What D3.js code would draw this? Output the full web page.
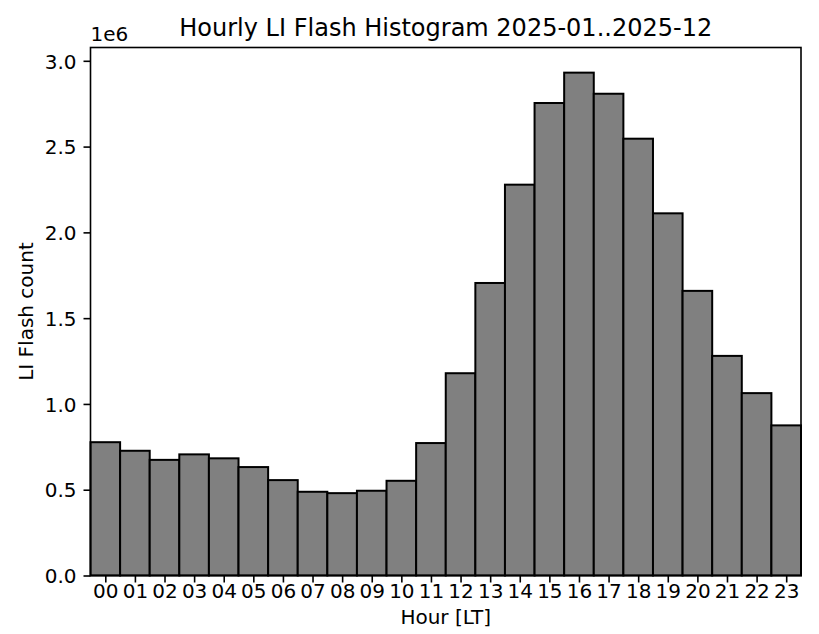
<!DOCTYPE html>
<html>
<head>
<meta charset="utf-8">
<script src="https://cdn.jsdelivr.net/npm/d3@7"></script>
<style>
  body { margin: 0; background: #fff; }
  text { font-family: "DejaVu Sans", sans-serif; fill: #000; }
</style>
</head>
<body>
<div id="chart"></div>
<script>
// hourly counts (millions)
var hours = ["00","01","02","03","04","05","06","07","08","09","10","11",
             "12","13","14","15","16","17","18","19","20","21","22","23"];
var flashCount = [0.777, 0.727, 0.674, 0.706, 0.683, 0.632, 0.556, 0.488, 0.480, 0.494, 0.552, 0.772,
                  1.179, 1.705, 2.278, 2.754, 2.931, 2.808, 2.546, 2.111, 1.659, 1.280, 1.063, 0.875];
var yTicks = [0, 0.5, 1.0, 1.5, 2.0, 2.5, 3.0];

const width = 819, height = 634;
const m = { left: 90.5, right: 801, top: 47.5, bottom: 575.5 };
const fs = '20px';

var svg = d3.select('#chart').append('svg')
  .attr('width', width)
  .attr('height', height);

var x = d3.scaleLinear().domain([0, hours.length]).range([m.left, m.right]);
var y = d3.scaleLinear().domain([0, d3.max(flashCount) * 1.05]).range([m.bottom, m.top]);

// bars
svg.append('g').selectAll('rect').data(flashCount).enter().append('rect')
  .attr('x', function(d, i){ return x(i); })
  .attr('y', function(d){ return y(d); })
  .attr('width', x(1) - x(0))
  .attr('height', function(d){ return y(0) - y(d); })
  .attr('fill', '#808080')
  .attr('stroke', '#000')
  .attr('stroke-width', 2);

// frame
svg.append('rect')
  .attr('x', m.left).attr('y', m.top)
  .attr('width', m.right - m.left).attr('height', m.bottom - m.top)
  .attr('fill', 'none').attr('stroke', '#000').attr('stroke-width', 1.6);

// y axis
var yAxis = d3.axisLeft(y).tickValues(yTicks).tickSize(7).tickPadding(7)
  .tickFormat(d3.format('.1f'));
var gy = svg.append('g').attr('transform', 'translate(' + m.left + ',0)').call(yAxis);
gy.select('.domain').remove();
gy.selectAll('.tick line').attr('stroke-width', 1.6);
gy.selectAll('.tick text').style('font-size', fs).attr('dy', '0.36em');

// x axis, label centred on each bar
var xAxis = d3.axisBottom(x).tickValues(d3.range(hours.length).map(function(i){ return i + 0.5; }))
  .tickSize(7).tickPadding(7)
  .tickFormat(function(d){ return hours[Math.floor(d)]; });
var gx = svg.append('g').attr('transform', 'translate(0,' + m.bottom + ')').call(xAxis);
gx.select('.domain').remove();
gx.selectAll('.tick line').attr('stroke-width', 1.6);
gx.selectAll('.tick text').style('font-size', fs).attr('y', 22).attr('dy', null);

// offset text
svg.append('text').attr('x', m.left).attr('y', 41)
  .style('font-size', fs).text('1e6');

// title and labels
svg.append('text').attr('x', (m.left + m.right) / 2).attr('y', 36)
  .attr('text-anchor', 'middle').style('font-size', '24px')
  .text('Hourly LI Flash Histogram 2025-01..2025-12');

svg.append('text').attr('x', (m.left + m.right) / 2).attr('y', 624)
  .attr('text-anchor', 'middle').style('font-size', fs)
  .text('Hour [LT]');

svg.append('text')
  .attr('transform', 'translate(33,' + ((m.top + m.bottom) / 2) + ') rotate(-90)')
  .attr('text-anchor', 'middle').style('font-size', fs)
  .text('LI Flash count');
</script>
</body>
</html>
